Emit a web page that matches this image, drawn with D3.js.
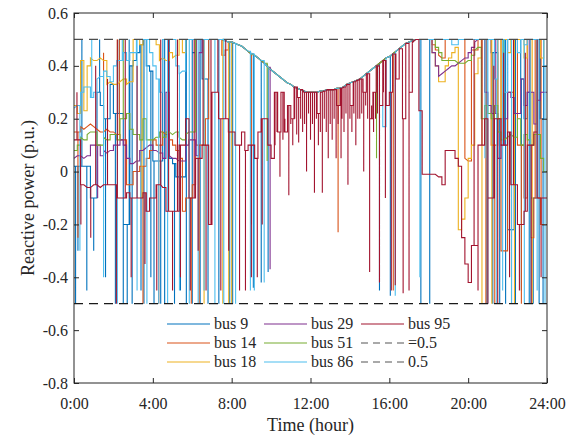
<!DOCTYPE html>
<html>
<head>
<meta charset="utf-8">
<script src="https://cdn.jsdelivr.net/npm/d3@7"></script>
<style>
body { margin: 0; background: #fff; }
text { font-family: "Liberation Serif", "Times New Roman", serif; fill: #262626; }
</style>
</head>
<body>
<div class="chart"></div>
<script>
// levels held for 10 minutes each, 0:00 .. 24:00 (one row = one hour)
var bus9 = [
  .02,.02,.02,.02,.02,-.1,
  -.1,.3,.25,.2,.2,.33,
  .22,.22,.22,-.2,-.2,.4,
  .42,.45,.48,.5,.4,.38,
  .04,.04,.04,.5,.5,.05,
  .03,-.02,-.02,-.02,.5,.5,
  .45,.5,.5,.35,.35,.5,
  .5,.5,.5,.5,.495,.49,
  .49,.485,.48,.475,.465,.455,
  .445,.44,.43,.42,.41,.395,
  .385,.375,.365,.355,.345,.335,
  .33,.32,.315,.31,.305,.3,
  .3,.3,.3,.305,.305,.31,
  .31,.31,.315,.315,.32,.33,
  .335,.34,.345,.35,.36,.37,
  .38,.39,.4,.41,.42,.43,
  .435,.445,.455,.465,.475,.485,
  .49,.495,.5,.5,.5,.5,
  .5,.5,.5,.5,.5,.5,
  .5,.5,.5,.5,.5,.5,
  .5,.5,.5,.5,.5,.5,
  .5,.45,.45,.2,.2,.5,
  -.22,-.22,.5,.5,.35,.2,
  .3,-.1,-.1,.5,.2,.5,
  .5];
var bus14 = [
  .15,.15,.17,.16,.17,.18,
  .17,.16,.15,.15,.16,.15,
  .15,.14,.12,.12,-.05,-.05,
  0,0,.02,.02,.05,.08,
  .12,.1,.1,.15,.14,.12,
  .1,.08,.05,-.15,-.1,-.1,
  -.05,.1,.1,.1,.2,.5,
  .5,.5,.5,.44,.46,.49,
  .49,.485,.48,.475,.465,.455,
  .445,.44,.43,.42,.41,.395,
  .385,.375,.365,.355,.345,.335,
  .33,.32,.315,.31,.305,.3,
  .3,.3,.3,.305,.305,.31,
  .31,.31,.315,.315,.32,.33,
  .335,.34,.345,.35,.36,.37,
  .38,.39,.4,.41,.42,.43,
  .435,.445,.455,.465,.475,.485,
  .49,.495,.5,.5,.5,.5,
  .5,.48,.46,.44,.43,.5,
  .5,.5,.5,.5,.5,.05,
  .04,.46,.46,.5,.5,.5,
  .5,.1,.1,.5,-.3,-.3,
  .3,.3,.5,.1,.1,-.1,
  .5,-.25,-.1,-.1,-.2,-.2,
  -.2];
var bus18 = [
  .25,.22,.42,.23,.4,.43,
  .42,.42,.43,.42,.33,.34,
  .33,.33,.34,.35,.33,.34,
  .5,.5,.48,.5,.5,.5,
  .5,.48,.42,.43,.42,.45,
  .43,.44,.5,.45,.5,.5,
  .5,.5,.5,.5,.5,.5,
  .5,.5,.5,.5,.495,.49,
  .49,.485,.48,.475,.465,.455,
  .445,.44,.43,.42,.41,.395,
  .385,.375,.365,.355,.345,.335,
  .33,.32,.315,.31,.305,.3,
  .3,.3,.3,.305,.305,.31,
  .31,.31,.315,.315,.32,.33,
  .335,.34,.345,.35,.36,.37,
  .38,.39,.4,.41,.42,.43,
  .435,.445,.455,.465,.475,.485,
  .49,.495,.5,.5,.5,.5,
  .5,.45,.4,.34,.34,.4,
  .43,.45,.47,-.22,-.18,-.1,
  .05,.1,.37,.43,.5,.5,
  .5,.5,.5,.2,.5,.5,
  .45,.5,.5,.5,.5,.43,
  .5,.5,.5,.5,.43,.5,
  .5];
var bus29 = [
  .05,.06,.06,.05,.06,.1,
  .1,.1,.06,.08,.07,.08,
  .1,.1,.12,.1,.05,.03,
  .03,.04,.08,.08,.09,.1,
  .08,.08,.07,.05,.3,.06,
  .05,.05,.04,.04,.1,.12,
  .12,.06,.45,.5,.5,.5,
  .5,.5,.5,.5,.495,.49,
  .49,.485,.48,.475,.465,.455,
  .445,.44,.43,.42,.41,.395,
  .385,.375,.365,.355,.345,.335,
  .33,.32,.315,.31,.305,.3,
  .3,.3,.3,.305,.305,.31,
  .31,.31,.315,.315,.32,.33,
  .335,.34,.345,.35,.36,.37,
  .38,.39,.4,.41,.42,.43,
  .435,.445,.455,.465,.475,.485,
  .49,.495,.5,.5,.5,.5,
  .5,.45,.4,.36,.37,.38,
  .39,.4,.4,.41,.42,.43,
  .45,.47,.49,.5,.5,.3,
  .25,.22,.22,.05,.1,.2,
  .3,.28,.22,.22,.35,.25,
  .3,.3,.18,.27,.3,.3,
  .3];
var bus51 = [
  .08,.1,.13,.12,.14,.15,
  .15,.1,.1,.13,.12,.14,
  .14,.12,.2,.2,.22,.16,
  .14,.14,.12,.2,.12,.12,
  .12,.13,.15,.13,.15,.15,
  .14,.15,.13,.12,.14,.15,
  .15,.5,.5,.5,.5,.5,
  .5,.5,.5,.5,.495,.49,
  .49,.485,.48,.475,.465,.455,
  .445,.44,.43,.42,.41,.395,
  .385,.375,.365,.355,.345,.335,
  .33,.32,.315,.31,.305,.3,
  .3,.3,.3,.305,.305,.31,
  .31,.31,.315,.315,.32,.33,
  .335,.34,.345,.35,.36,.37,
  .38,.39,.4,.41,.42,.43,
  .435,.445,.455,.465,.475,.485,
  .49,.495,.5,.5,.5,.5,
  .5,.5,.47,.45,.42,.42,
  .42,.42,.42,.41,.41,.41,
  .42,.44,.46,.47,.2,.25,
  .22,.2,.25,.15,.12,.12,
  .13,.14,.13,.2,.1,.14,
  .12,.1,.14,.14,.05,0,
  0];
var bus86 = [
  .24,.25,.3,.32,.32,.28,
  .3,.35,.36,.38,.36,.34,
  .4,.42,.42,.45,.42,.45,
  .45,.5,.5,.5,.5,.45,
  .4,.35,.3,.5,.5,.5,
  .5,.4,.37,.38,.5,.5,
  .5,.5,.5,.5,.5,.5,
  .5,.5,.5,.5,.495,.49,
  .49,.485,.48,.475,.465,.455,
  .445,.44,.43,.42,.41,.395,
  .385,.375,.365,.355,.345,.335,
  .33,.32,.315,.31,.305,.3,
  .3,.3,.3,.305,.305,.31,
  .31,.31,.315,.315,.32,.33,
  .335,.34,.345,.35,.36,.37,
  .38,.39,.4,.25,.17,.43,
  .435,.445,.455,.465,.475,.485,
  .49,.495,.5,.5,.5,.5,
  .5,.5,.5,.5,.5,.5,
  .5,.48,.48,.5,.5,.5,
  .5,.5,.5,.5,.5,.5,
  .5,.5,.35,.5,.5,.3,
  .5,.5,.5,.45,.5,.48,
  .5,.5,.5,.5,.5,.4,
  .4];
var bus95 = [
  .12,.12,-.05,-.05,-.06,-.06,
  -.05,-.05,-.06,-.05,-.05,-.05,
  -.05,-.1,-.1,-.1,-.08,-.1,
  -.1,-.1,-.1,-.08,-.15,-.1,
  -.1,-.05,-.05,-.06,-.15,-.15,
  -.15,-.15,.1,.1,.2,-.1,
  -.1,.05,.05,.1,.1,-.2,
  .3,.3,.2,.2,.2,.15,
  .15,.1,.1,.15,.08,.1,
  .1,.05,.15,.2,.2,.1,
  .05,.3,.15,.3,.15,.25,
  .2,.32,.28,.31,.3,.3,
  .3,.3,.22,.3,.305,.31,
  .31,.31,.25,.315,.32,.33,
  .25,.34,.345,.35,.3,.37,
  .2,.3,.4,.25,.42,.25,
  .3,.445,.35,.465,.2,.485,
  .3,.49,.5,.23,-.01,-.01,
  -.01,-.01,-.01,-.02,-.05,.08,
  .08,.08,.05,.02,-.25,-.35,
  -.42,-.28,-.28,.1,.1,.2,
  -.1,-.1,.2,.2,.1,.1,
  .15,-.05,-.05,-.2,-.2,-.15,
  .1,.1,.15,-.1,-.1,-.1,
  -.1];

// short excursions [hour, value]
var bus9Spikes = [[0.08,-.5],[0.2,-.3],[0.4,.5],[0.65,-.45],[1.0,-.3],[1.3,.5],[1.6,-.4],[2.1,-.5],[2.3,.5],
  [2.5,-.5],[2.7,-.5],[2.8,.5],[2.95,-.5],[3.4,-.45],[3.55,-.5],[3.9,-.4],[4.06,-.5],[4.4,-.5],[4.6,-.5],
  [5.1,-.5],[5.4,-.45],[5.7,-.5],[6.0,-.5],[6.4,-.5],[6.8,-.5],[7.35,-.5],[7.9,-.5],[8.05,-.5],[9.1,-.44],
  [9.5,-.42],[9.85,-.38],[15.5,-.45],[16.05,-.47],[17.6,-.5],[18.05,-.5],[20.95,-.5],[21.25,-.5],[21.6,-.5],
  [21.9,-.5],[22.4,-.5],[22.7,-.45],[23.1,-.5],[23.3,-.5],[23.6,-.5],[23.8,-.5]];
var bus14Spikes = [[0.2,-.25],[1.5,.45],[2.3,.5],[3.5,-.5],[4.3,-.5],[5.95,-.5],[6.2,.5],[6.35,-.5],[9.0,-.2],
  [13.4,-.23],[16.2,-.45],[20.9,-.5],[21.35,-.5],[22.2,-.5],[22.7,-.5],[23.4,.5],[23.7,.5]];
var bus18Spikes = [[2.2,.5],[3.45,-.1],[6.6,-.5],[7.55,-.5],[7.85,-.5],[8.0,-.5],[20.7,-.5],[21.2,-.5],
  [22.35,-.5],[23.25,-.5]];
var bus29Spikes = [[1.2,-.1],[6.2,.5],[9.95,-.37],[21.4,.5],[23.1,.5]];
var bus51Spikes = [[2.5,.5],[9.8,.04],[15.35,.05],[21.8,.5],[23.5,.5]];
var bus86Spikes = [[0.3,-.3],[0.9,.5],[1.5,-.4],[2.2,-.5],[2.45,.5],[3.2,-.45],[3.7,-.5],[4.3,-.5],[4.75,-.5],
  [5.35,-.45],[5.85,-.5],[6.3,-.5],[6.6,-.45],[7.15,-.5],[7.6,-.5],[8.2,-.5],[8.95,-.45],[9.15,-.45],
  [9.65,-.42],[16.3,-.47],[17.55,-.4],[20.85,.05],[21.0,-.5],[21.45,-.5],[21.75,-.45],[22.2,-.5],
  [22.85,-.5],[23.15,-.5],[23.5,-.45],[23.9,-.5]];
var bus95Spikes = [[0.15,.3],[0.35,-.2],[0.85,-.25],[1.1,.4],[1.7,.35],[2.15,-.5],[2.2,.5],[2.6,.5],[2.9,-.4],
  [3.2,.4],[3.6,-.35],[4.2,-.45],[4.4,.5],[4.8,.5],[5.0,-.45],[5.25,.5],[5.4,-.4],[5.9,-.45],[6.1,.5],
  [6.3,-.3],[6.55,.5],[6.7,-.45],[6.95,.5],[7.3,.5],[7.45,-.45],[7.7,.5],[7.85,-.3],[8.4,-.45],[8.7,-.45],
  [9.0,-.4],[9.3,-.4],[9.55,-.2],[10.2,.1],[10.3,.15],[10.45,-.02],[10.6,.12],[10.7,.2],[10.9,-.09],
  [11.0,.18],[11.1,.1],[11.2,.2],[11.3,.14],[11.4,.11],[11.5,.2],[11.6,.15],[11.7,.18],[11.8,0],[11.9,.22],
  [12.0,.12],[12.1,.18],[12.2,-.08],[12.3,.2],[12.4,.1],[12.5,.15],[12.6,-.08],[12.7,.2],[12.8,.15],
  [12.9,.05],[13.0,.18],[13.1,.12],[13.2,.2],[13.3,.05],[13.4,.18],[13.55,.05],[13.6,.2],[13.7,.15],
  [13.8,.22],[13.9,-.05],[14.0,.2],[14.1,.15],[14.2,.22],[14.3,.1],[14.4,.2],[14.5,.2],[14.6,.22],
  [14.7,0],[14.8,.25],[14.9,.2],[15.0,-.38],[15.1,.25],[15.2,.15],[15.3,.2],[15.4,.22],[15.5,-.42],
  [15.6,.25],[15.7,.3],[15.8,-.1],[16.1,-.45],[16.3,-.43],[16.7,-.46],[17.0,-.45],
  [17.2,.5],[20.3,.5],[20.5,-.45],[20.7,.5],[21.0,-.5],[21.3,.4],[21.5,-.5],[21.8,.45],[22.1,-.4],
  [22.3,.5],[22.6,-.45],[22.9,.45],[23.2,-.5],[23.5,.5],[23.7,-.4]];

var seriesNames = ["bus 9", "bus 14", "bus 18", "bus 29", "bus 51", "bus 86", "bus 95"];
var seriesData = [bus9, bus14, bus18, bus29, bus51, bus86, bus95];
var seriesSpikes = [bus9Spikes, bus14Spikes, bus18Spikes, bus29Spikes, bus51Spikes, bus86Spikes, bus95Spikes];
var color = ["#0072BD", "#D95319", "#EDB120", "#7E2F8E", "#77AC30", "#4DBEEE", "#A2142F"];
var limits = [-0.5, 0.5];
var limitNames = ["=0.5", "0.5"];
var xTicks = [0, 4, 8, 12, 16, 20, 24];
var xTickLabels = ["0:00", "4:00", "8:00", "12:00", "16:00", "20:00", "24:00"];
var yTicks = [-0.8, -0.6, -0.4, -0.2, 0, 0.2, 0.4, 0.6];
var yTickLabels = ["-0.8", "-0.6", "-0.4", "-0.2", "0", "0.2", "0.4", "0.6"];

var width = 583, height = 438;
var pL = 74, pR = 547, pT = 13, pB = 383;

var svg = d3.select(".chart").append("svg")
  .attr("width", width)
  .attr("height", height);

var x = d3.scaleLinear().domain([0, 24]).range([pL, pR]);
var y = d3.scaleLinear().domain([-0.8, 0.6]).range([pB, pT]);

// held levels plus the short excursions inside each 10 minute slot;
// very small level changes are joined straight (smooth daytime limit)
function buildPoints(levels, spikes) {
  var sp = spikes.slice().sort(function(a, b) { return a[0] - b[0]; });
  var pts = [], j = 0;
  for (var i = 0; i < levels.length - 1; i++) {
    var t0 = i / 6, t1 = (i + 1) / 6, v = levels[i];
    pts.push([t0, v]);
    while (j < sp.length && sp[j][0] < t1) {
      pts.push([sp[j][0], v], [sp[j][0], sp[j][1]], [sp[j][0], v]);
      j++;
    }
    if (Math.abs(levels[i + 1] - v) > 0.016) pts.push([t1, v]);
  }
  pts.push([(levels.length - 1) / 6, levels[levels.length - 1]]);
  return pts;
}

var line = d3.line()
  .x(function(d) { return x(d[0]); })
  .y(function(d) { return y(d[1]); });

var lines = svg.append("g");
seriesData.forEach(function(s, k) {
  lines.append("path")
    .attr("d", line(buildPoints(s, seriesSpikes[k])))
    .attr("fill", "none")
    .attr("stroke", color[k])
    .attr("stroke-width", 1.1);
});

// limit lines
var limColor = ["#1a1a1a", "#4d4d4d"];
limits.forEach(function(v, k) {
  svg.append("line")
    .attr("x1", x(0)).attr("x2", x(24))
    .attr("y1", y(v)).attr("y2", y(v))
    .attr("stroke", limColor[k])
    .attr("stroke-width", 1.2)
    .attr("stroke-dasharray", "9,6");
});

// axes (ticks inside, box all round)
var axColor = "#262626";
var xb = svg.append("g").attr("transform", "translate(0," + pB + ")")
  .call(d3.axisBottom(x).tickValues(xTicks).tickFormat(function(d, i) { return xTickLabels[i]; })
    .tickSizeInner(-5).tickSizeOuter(0).tickPadding(15));
var xt = svg.append("g").attr("transform", "translate(0," + pT + ")")
  .call(d3.axisTop(x).tickValues(xTicks).tickFormat("").tickSizeInner(-5).tickSizeOuter(0));
var yl = svg.append("g").attr("transform", "translate(" + pL + ",0)")
  .call(d3.axisLeft(y).tickValues(yTicks).tickFormat(function(d, i) { return yTickLabels[i]; })
    .tickSizeInner(-5).tickSizeOuter(0).tickPadding(6));
var yr = svg.append("g").attr("transform", "translate(" + pR + ",0)")
  .call(d3.axisRight(y).tickValues(yTicks).tickFormat("").tickSizeInner(-5).tickSizeOuter(0));

[xb, xt, yl, yr].forEach(function(g) {
  g.select(".domain").remove();
  g.selectAll("line").attr("stroke", axColor);
  g.selectAll("text").attr("font-size", 16).attr("font-family", null).style("fill", axColor);
});

svg.append("rect")
  .attr("x", pL).attr("y", pT)
  .attr("width", pR - pL).attr("height", pB - pT)
  .attr("fill", "none").attr("stroke", axColor).attr("stroke-width", 1);

svg.append("text")
  .attr("x", (pL + pR) / 2).attr("y", 431)
  .attr("text-anchor", "middle")
  .attr("font-size", 18)
  .text("Time (hour)");

svg.append("text")
  .attr("transform", "translate(34," + ((pT + pB) / 2) + ") rotate(-90)")
  .attr("text-anchor", "middle")
  .attr("font-size", 18)
  .text("Reactive power (p.u.)");

// legend, 3 columns x 3 rows
var legItems = seriesNames.map(function(n, k) { return { name: n, color: color[k], dash: null }; })
  .concat(limitNames.map(function(n) { return { name: n, color: "#555", dash: "7,5" }; }));
var colX = [167, 264, 361], rowY = [324, 343, 362];
var leg = svg.append("g");
legItems.forEach(function(d, k) {
  var cx = colX[Math.floor(k / 3)], cy = rowY[k % 3];
  leg.append("line")
    .attr("x1", cx).attr("x2", cx + 43)
    .attr("y1", cy).attr("y2", cy)
    .attr("stroke", d.color)
    .attr("stroke-width", 1.2)
    .attr("stroke-dasharray", d.dash);
  leg.append("text")
    .attr("x", cx + 47).attr("y", cy + 5)
    .attr("font-size", 16)
    .text(d.name);
});
</script>
</body>
</html>
